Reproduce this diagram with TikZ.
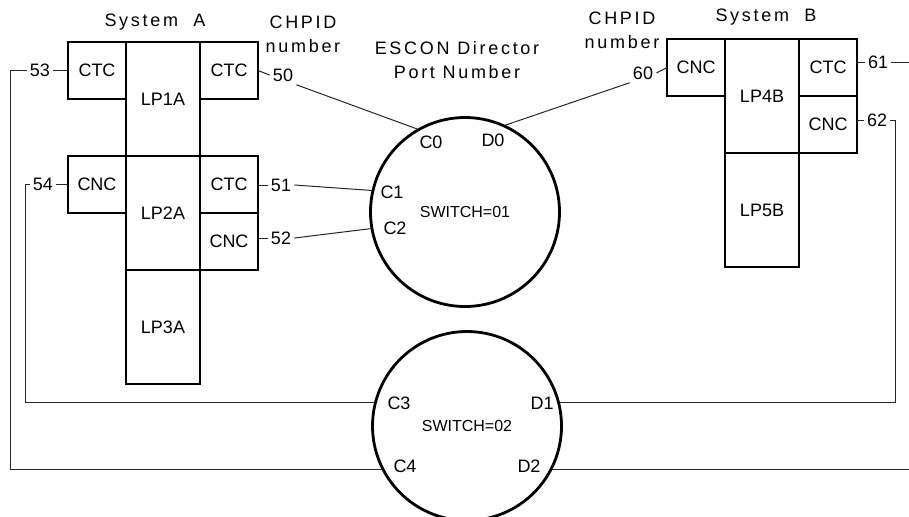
\documentclass[tikz,border=0pt]{standalone}
\usepackage{fontspec}
\setmainfont{Liberation Sans}
\newfontfamily\headfont[LetterSpace=15]{Liberation Sans}
\usetikzlibrary{positioning}
\tikzset{
  lpbox/.style   = {draw, line width=1.1pt, outer sep=0pt, inner sep=0pt,
                    minimum width=37pt, minimum height=57pt,
                    font=\fontsize{9}{11}\selectfont},
  chbox/.style   = {draw, line width=1.1pt, outer sep=0pt, inner sep=0pt,
                    minimum width=29pt, minimum height=28.5pt,
                    font=\fontsize{9}{11}\selectfont},
  switch/.style  = {draw, circle, line width=1.4pt, minimum size=94.5pt,
                    inner sep=0pt, font=\fontsize{8}{9}\selectfont},
  portlbl/.style = {inner sep=0pt, font=\fontsize{9}{11}\selectfont},
  chplbl/.style  = {inner sep=1.5pt, font=\fontsize{9}{11}\selectfont},
  heading/.style = {align=center, inner sep=0pt,
                    font=\headfont\fontsize{9}{12}\selectfont},
  wire/.style    = {-, line width=0.5pt, black!85},
}

\begin{document}
\begin{tikzpicture}[x=0.5pt, y=-0.5pt]
    \useasboundingbox (0,0) rectangle (909,516);

    \node[heading] (sysa)  at (155,22) {System\ \ A};
    \node[heading] (chpa)  at (303,34) {CHPID\\number};
    \node[heading] (escon) at (457,60) {ESCON Director\\Port Number};
    \node[heading] (chpb)  at (622,30) {CHPID\\number};
    \node[heading] (sysb)  at (766,17) {System\ \ B};

    \node[lpbox, anchor=north west] (lp1a) at (126,42) {LP1A};
    \node[chbox, anchor=north east] (ctc53) at (lp1a.north west) {CTC};
    \node[chbox, anchor=north west] (ctc50) at (lp1a.north east) {CTC};
    \node[lpbox, below=0pt of lp1a] (lp2a) {LP2A};
    \node[chbox, anchor=north east] (cnc54) at (lp2a.north west) {CNC};
    \node[chbox, anchor=north west] (ctc51) at (lp2a.north east) {CTC};
    \node[chbox, below=0pt of ctc51] (cnc52) {CNC};
    \node[lpbox, below=0pt of lp2a] (lp3a) {LP3A};

    \node[lpbox, anchor=north west] (lp4b) at (725,39) {LP4B};
    \node[chbox, anchor=north east] (cnc60) at (lp4b.north west) {CNC};
    \node[chbox, anchor=north west] (ctc61) at (lp4b.north east) {CTC};
    \node[chbox, below=0pt of ctc61] (cnc62) {CNC};
    \node[lpbox, below=0pt of lp4b] (lp5b) {LP5B};

    \node[switch] (sw1) at (465,212) {SWITCH=01};
    \node[switch] (sw2) at (467,426) {SWITCH=02};

    \node[portlbl] (pc0) at (431,142) {C0};
    \node[portlbl] (pd0) at (493,140) {D0};
    \node[portlbl] (pc1) at (392,192) {C1};
    \node[portlbl] (pc2) at (395,228) {C2};
    \node[portlbl] (pc3) at (399,403) {C3};
    \node[portlbl] (pc4) at (405,466) {C4};
    \node[portlbl] (pd1) at (542,403) {D1};
    \node[portlbl] (pd2) at (529,466) {D2};

    \node[chplbl] (n53) at (40,70)   {53};
    \node[chplbl] (n54) at (43,184)  {54};
    \node[chplbl] (n50) at (283,75)  {50};
    \node[chplbl] (n51) at (281,185) {51};
    \node[chplbl] (n52) at (281,238) {52};
    \node[chplbl] (n60) at (643,73)  {60};
    \node[chplbl] (n61) at (878,62)  {61};
    \node[chplbl] (n62) at (877,120) {62};

    \coordinate (a53) at (10,70);
    \coordinate (a54) at (25,184);
    \coordinate (a62) at (895,120);
    \coordinate (redge) at (909,0);

    \draw[wire] (n53.east) -- (n53.east -| ctc53.west);
    \draw[wire] (n53.west) -- (a53) |- (sw2.207);
    \draw[wire] (n54.east) -- (n54.east -| cnc54.west);
    \draw[wire] (n54.west) -- (a54) |- (sw2.166);
    \draw[wire] (ctc50.east) -- (n50.west);
    \draw[wire] (n50.south east) -- (sw1.120);
    \draw[wire] (n51.west) -- (n51.west -| ctc51.east);
    \draw[wire] (n51.east) -- (sw1.167);
    \draw[wire] (n52.west) -- (n52.west -| cnc52.east);
    \draw[wire] (n52.east) -- (sw1.190);
    \draw[wire] (n60.east) -- (cnc60.west);
    \draw[wire] (n60.south west) -- (sw1.65);
    \draw[wire] (n61.west) -- (n61.west -| ctc61.east);
    \draw[wire] (n61.east) -- (n61.east -| redge);
    \draw[wire] (n62.west) -- (n62.west -| cnc62.east);
    \draw[wire] (n62.east) -- (a62) |- (sw2.14);
    \draw[wire] (sw2.333) -- (sw2.333 -| redge);
\end{tikzpicture}
\end{document}
